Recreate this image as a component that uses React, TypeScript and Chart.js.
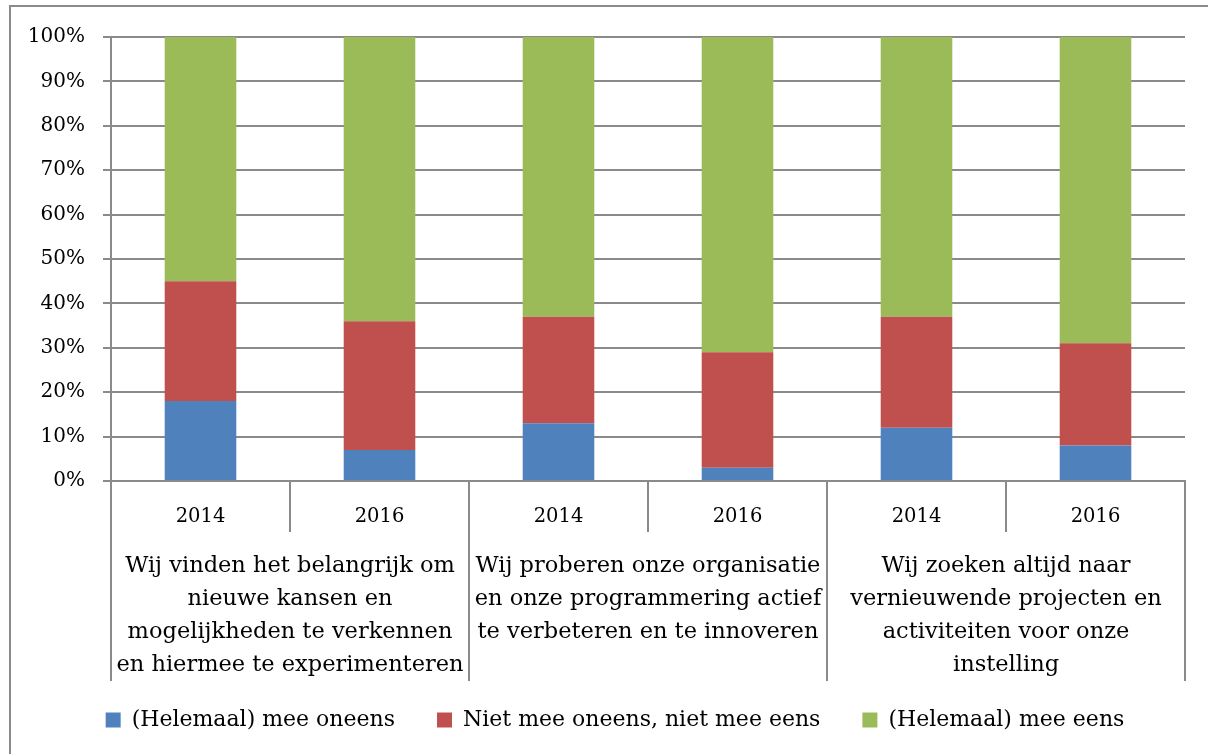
import React, { useEffect, useRef } from "react";
import { Chart, registerables } from "chart.js";

Chart.register(...registerables);

// ---- data ----
const years = ["2014", "2016", "2014", "2016", "2014", "2016"];
const groupLabels = [
  ["Wij vinden het belangrijk om", "nieuwe kansen en", "mogelijkheden te verkennen", "en hiermee te experimenteren"],
  ["Wij proberen onze organisatie", "en onze programmering actief", "te verbeteren en te innoveren"],
  ["Wij zoeken altijd naar", "vernieuwende projecten en", "activiteiten voor onze", "instelling"],
];
const seriesNames = ["(Helemaal) mee oneens", "Niet mee oneens, niet mee eens", "(Helemaal) mee eens"];
const meeOneens = [18, 7, 13, 3, 12, 8];
const neutraal = [27, 29, 24, 26, 25, 23];
const meeEens = [55, 64, 63, 71, 63, 69];
const yMax = 100;
const yStep = 10;

// ---- style ----
const FONT = "'DejaVu Serif', 'Liberation Serif', serif";
const GRAY = "#8a8a8a";
const COLORS = ["#4F81BD", "#C0504D", "#9BBB59"];
const LEGEND_PAD = 42;
const LEGEND_LEFT = 45;

const groupPlugin = {
  id: "groupAxis",
  afterLayout(chart: any) {
    const lg = chart.legend;
    if (lg) {
      lg.left = LEGEND_LEFT;
      lg.width = lg.right - lg.left;
    }
  },
  beforeDraw(chart: any) {
    const ctx = chart.ctx;
    ctx.save();
    ctx.strokeStyle = GRAY;
    ctx.lineWidth = 2;
    ctx.strokeRect(10, 6, chart.width + 20, chart.height + 20);
    ctx.restore();
  },
  afterDraw(chart: any) {
    const ctx = chart.ctx;
    const xs = chart.scales.x;
    const bottom = chart.chartArea.bottom;
    const perGroup = years.length / groupLabels.length;
    ctx.save();
    ctx.strokeStyle = GRAY;
    ctx.lineWidth = 2;
    for (let g = 0; g <= groupLabels.length; g++) {
      const px = Math.round(xs.getPixelForValue(g * perGroup - 0.5));
      ctx.beginPath();
      ctx.moveTo(px, bottom);
      ctx.lineTo(px, bottom + 200);
      ctx.stroke();
    }
    ctx.fillStyle = "#000";
    ctx.font = `22.5px ${FONT}`;
    ctx.textAlign = "center";
    ctx.textBaseline = "middle";
    groupLabels.forEach((lines, g) => {
      const cx = xs.getPixelForValue(g * perGroup + (perGroup - 1) / 2);
      lines.forEach((line, i) => {
        ctx.fillText(line, cx, bottom + 85 + i * 33);
      });
    });
    ctx.restore();
  },
};

export default function App() {
  const ref = useRef<HTMLCanvasElement>(null);
  useEffect(() => {
    const datasets = [meeOneens, neutraal, meeEens].map((d, i) => ({
      label: seriesNames[i],
      data: d,
      backgroundColor: COLORS[i],
      borderWidth: 0,
      barPercentage: 0.4,
      categoryPercentage: 1,
    }));
    const chart = new Chart(ref.current!, {
      type: "bar",
      data: { labels: years, datasets },
      options: {
        animation: false,
        responsive: true,
        maintainAspectRatio: false,
        layout: { padding: { left: 0, top: 37, right: 23, bottom: 13 } },
        plugins: {
          tooltip: { enabled: false },
          legend: {
            position: "bottom",
            labels: {
              boxWidth: 15,
              boxHeight: 15,
              padding: LEGEND_PAD,
              color: "#000",
              font: { family: FONT, size: 22 },
            },
          },
        },
        scales: {
          x: {
            stacked: true,
            offset: true,
            grid: {
              offset: true,
              drawOnChartArea: false,
              drawTicks: true,
              tickLength: 51,
              color: GRAY,
              lineWidth: 2,
            },
            border: { color: GRAY, width: 2 },
            ticks: {
              color: "#000",
              font: { family: FONT, size: 19.5 },
              padding: -27,
              maxRotation: 0,
              autoSkip: false,
            },
            afterFit: (s: any) => {
              s.height = 228 - LEGEND_PAD;
            },
          },
          y: {
            stacked: true,
            min: 0,
            max: yMax,
            ticks: {
              stepSize: yStep,
              color: "#000",
              font: { family: FONT, size: 20 },
              padding: 18,
              callback: (v: any) => v + "%",
            },
            grid: { color: GRAY, lineWidth: 2, tickLength: 8 },
            border: { color: GRAY, width: 2 },
            afterFit: (s: any) => {
              s.width = 111;
            },
          },
        },
      },
      plugins: [groupPlugin],
    });
    return () => chart.destroy();
  }, []);
  return (
    <div style={{ position: "absolute", left: 0, top: 0, width: 1208, height: 754, background: "#fff" }}>
      <canvas ref={ref} />
    </div>
  );
}
